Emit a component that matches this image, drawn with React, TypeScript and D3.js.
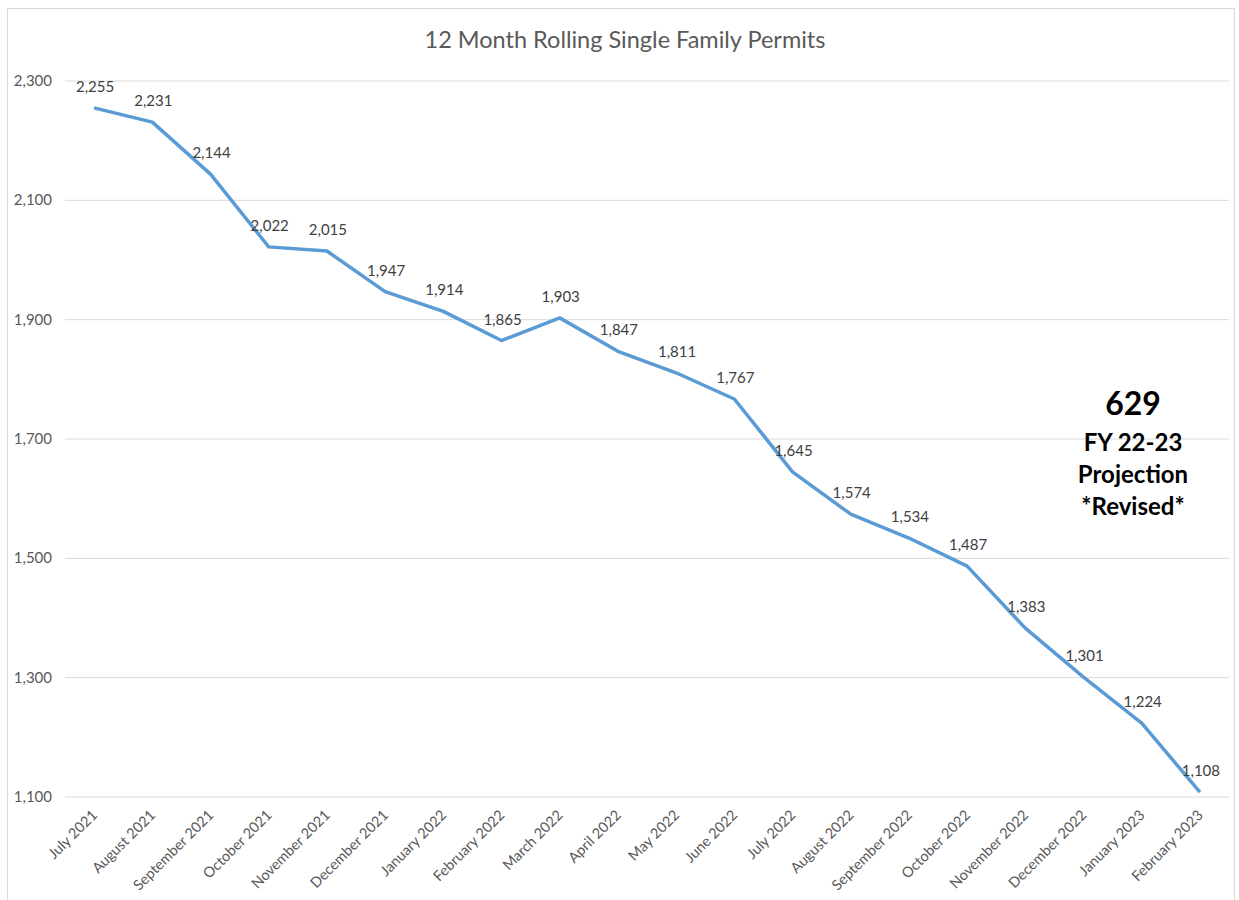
import React from "react";
import * as d3 from "d3";

const months = [
  "July 2021", "August 2021", "September 2021", "October 2021", "November 2021",
  "December 2021", "January 2022", "February 2022", "March 2022", "April 2022",
  "May 2022", "June 2022", "July 2022", "August 2022", "September 2022",
  "October 2022", "November 2022", "December 2022", "January 2023", "February 2023"
];
const permits = [
  2255, 2231, 2144, 2022, 2015, 1947, 1914, 1865, 1903, 1847,
  1811, 1767, 1645, 1574, 1534, 1487, 1383, 1301, 1224, 1108
];
const yTicks = [1100, 1300, 1500, 1700, 1900, 2100, 2300];
const noteLines = ["FY 22-23", "Projection", "*Revised*"];
const noteValue = "629";

const W = 1239;
const H = 900;
const font = "Lato, 'Open Sans', sans-serif";

export default function App() {
  var x = d3.scaleBand().domain(months).range([65, 1229]);
  var y = d3.scaleLinear().domain([1100, 2300]).range([797, 81]);
  var fmt = d3.format(",");

  var line = d3
    .line<number>()
    .x((d, i) => x(months[i])! + x.bandwidth() / 2)
    .y(d => y(d));

  return (
    <svg width={W} height={H} style={{ position: "absolute", left: 0, top: 0 }}>
      <rect x={0} y={0} width={W} height={H} fill="#fff" />
      <rect x={7.5} y={8.5} width={1227} height={900} fill="none" stroke="#d9d9d9" />
      <text x={625} y={48} textAnchor="middle" fontFamily={font} fontSize={23.5} fill="#595959">
        12 Month Rolling Single Family Permits
      </text>
      {yTicks.map(t => (
        <g key={t}>
          <line x1={65} x2={1229} y1={y(t)} y2={y(t)} stroke="#d9d9d9" strokeWidth={1} />
          <text x={52} y={y(t) + 5} textAnchor="end" fontFamily={font} fontSize={15} fill="#595959">
            {fmt(t)}
          </text>
        </g>
      ))}
      <path d={line(permits) || ""} fill="none" stroke="#5b9bd5" strokeWidth={3.5} strokeLinejoin="round" />
      {permits.map((v, i) => (
        <text
          key={i}
          x={x(months[i])! + x.bandwidth() / 2 + 1}
          y={y(v) - 16}
          textAnchor="middle"
          fontFamily={font}
          fontSize={15}
          fill="#404040"
        >
          {fmt(v)}
        </text>
      ))}
      {months.map(m => {
        var cx = x(m)! + x.bandwidth() / 2 + 4;
        return (
          <text
            key={m}
            transform={`translate(${cx},${816}) rotate(-45)`}
            textAnchor="end"
            fontFamily={font}
            fontSize={14.5}
            fill="#595959"
          >
            {m}
          </text>
        );
      })}
      <text x={1133} y={415} textAnchor="middle" fontFamily={font} fontWeight="bold" fontSize={32} fill="#000">
        {noteValue}
      </text>
      {noteLines.map((s, i) => (
        <text key={s} x={1133} y={451 + i * 32} textAnchor="middle" fontFamily={font} fontWeight="bold" fontSize={24} fill="#000">
          {s}
        </text>
      ))}
    </svg>
  );
}
